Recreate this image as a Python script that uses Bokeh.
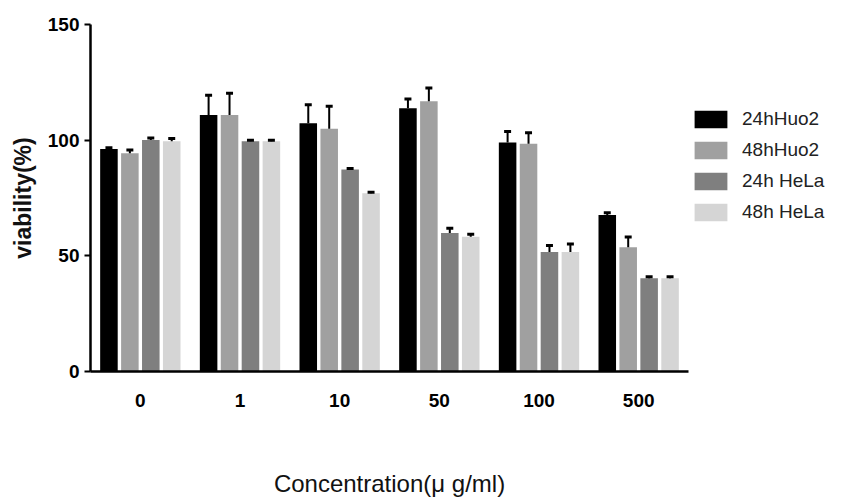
from bokeh.plotting import figure
from bokeh.layouts import row
from bokeh.models import FactorRange, Range1d, FixedTicker, Legend, LegendItem, ColumnDataSource
from bokeh.transform import dodge
from bokeh.embed import file_html
from bokeh.resources import INLINE

# ---- data ----
concentrations = ["0", "1", "10", "50", "100", "500"]
series_names = ["24hHuo2", "48hHuo2", "24h HeLa", "48h HeLa"]
huo2_24h = [96.2, 110.9, 107.3, 113.8, 99.0, 67.7]
huo2_24h_err = [0.5, 8.5, 8.0, 4.0, 4.7, 0.9]
huo2_48h = [94.3, 110.9, 104.9, 116.8, 98.4, 53.7]
huo2_48h_err = [1.5, 9.4, 9.8, 5.7, 4.8, 4.4]
hela_24h = [100.1, 99.5, 87.3, 59.9, 51.7, 40.3]
hela_24h_err = [0.8, 0.5, 0.5, 2.0, 2.8, 0.7]
hela_48h = [99.5, 99.5, 77.0, 58.3, 51.7, 40.3]
hela_48h_err = [1.2, 0.5, 0.5, 1.0, 3.4, 0.7]
y_ticks = [0, 50, 100, 150]

values = [huo2_24h, huo2_48h, hela_24h, hela_48h]
errors = [huo2_24h_err, huo2_48h_err, hela_24h_err, hela_48h_err]
colors = ["#000000", "#a0a0a0", "#7f7f7f", "#d5d5d5"]
offsets = [-0.315, -0.105, 0.105, 0.315]
bar_w = 0.176
cap_half = 0.035

FONT = "Liberation Sans"

p = figure(width=690, height=500, output_backend="svg", toolbar_location=None,
           x_range=FactorRange(*concentrations, range_padding=0),
           y_range=Range1d(0, 150),
           min_border_left=90, min_border_right=2, min_border_top=24, min_border_bottom=129)
p.outline_line_color = None
p.xgrid.visible = False
p.ygrid.visible = False
p.background_fill_color = "white"

# legend panel to the right of the chart (same data, hidden renderers)
pl = figure(width=151, height=500, output_backend="svg", toolbar_location=None,
            x_range=FactorRange(*concentrations, range_padding=0), y_range=Range1d(0, 150),
            min_border_left=0, min_border_right=0, min_border_top=24, min_border_bottom=129)
pl.axis.visible = False
pl.grid.visible = False
pl.outline_line_color = None

items = []
for name, vals, errs, col, off in zip(series_names, values, errors, colors, offsets):
    src = ColumnDataSource(dict(x=concentrations, top=vals,
                                etop=[v + e for v, e in zip(vals, errs)]))
    p.vbar(x=dodge("x", off, range=p.x_range), top="top", width=bar_w, bottom=0,
           source=src, fill_color=col, line_color=None)
    p.segment(x0=dodge("x", off, range=p.x_range), y0="top",
              x1=dodge("x", off, range=p.x_range), y1="etop",
              source=src, line_color="black", line_width=2)
    p.segment(x0=dodge("x", off - cap_half, range=p.x_range), y0="etop",
              x1=dodge("x", off + cap_half, range=p.x_range), y1="etop",
              source=src, line_color="black", line_width=3)
    r = pl.vbar(x="x", top="top", width=bar_w, bottom=0, source=src,
                fill_color=col, line_color=None, visible=False)
    items.append(LegendItem(label=name, renderers=[r]))

# y axis
ya = p.yaxis[0]
ya.ticker = FixedTicker(ticks=y_ticks)
ya.axis_line_width = 2.5
ya.axis_line_color = "black"
ya.major_tick_out = 6
ya.major_tick_in = 0
ya.major_tick_line_width = 2
ya.minor_tick_out = 0
ya.minor_tick_in = 0
ya.major_label_text_font = FONT
ya.major_label_text_font_style = "bold"
ya.major_label_text_font_size = "19px"
ya.major_label_text_color = "black"
ya.major_label_standoff = 5
ya.axis_label = "viability(%)"
ya.axis_label_text_font = FONT
ya.axis_label_text_font_style = "bold"
ya.axis_label_text_font_size = "23px"
ya.axis_label_text_color = "#111111"
ya.axis_label_standoff = 9

# x axis
xa = p.xaxis[0]
xa.axis_line_width = 2.5
xa.axis_line_color = "black"
xa.major_tick_out = 0
xa.major_tick_in = 0
xa.minor_tick_out = 0
xa.major_label_text_font = FONT
xa.major_label_text_font_style = "bold"
xa.major_label_text_font_size = "19px"
xa.major_label_text_color = "black"
xa.major_label_standoff = 22
xa.axis_label = "Concentration(\u03bc g/ml)"
xa.axis_label_text_font = FONT
xa.axis_label_text_font_style = "normal"
xa.axis_label_text_font_size = "24px"
xa.axis_label_text_color = "#111111"
xa.axis_label_standoff = 60

legend = Legend(items=items, location=(0, 148), padding=0, margin=0, border_line_color=None,
                background_fill_alpha=0, inactive_fill_alpha=0,
                glyph_width=41, glyph_height=22, label_height=22,
                spacing=9, label_standoff=11,
                label_text_font=FONT, label_text_font_size="19px", label_text_color="#222222")
pl.add_layout(legend)

layout = row(p, pl, spacing=0)
open("out.html", "w").write(file_html(layout, INLINE))
